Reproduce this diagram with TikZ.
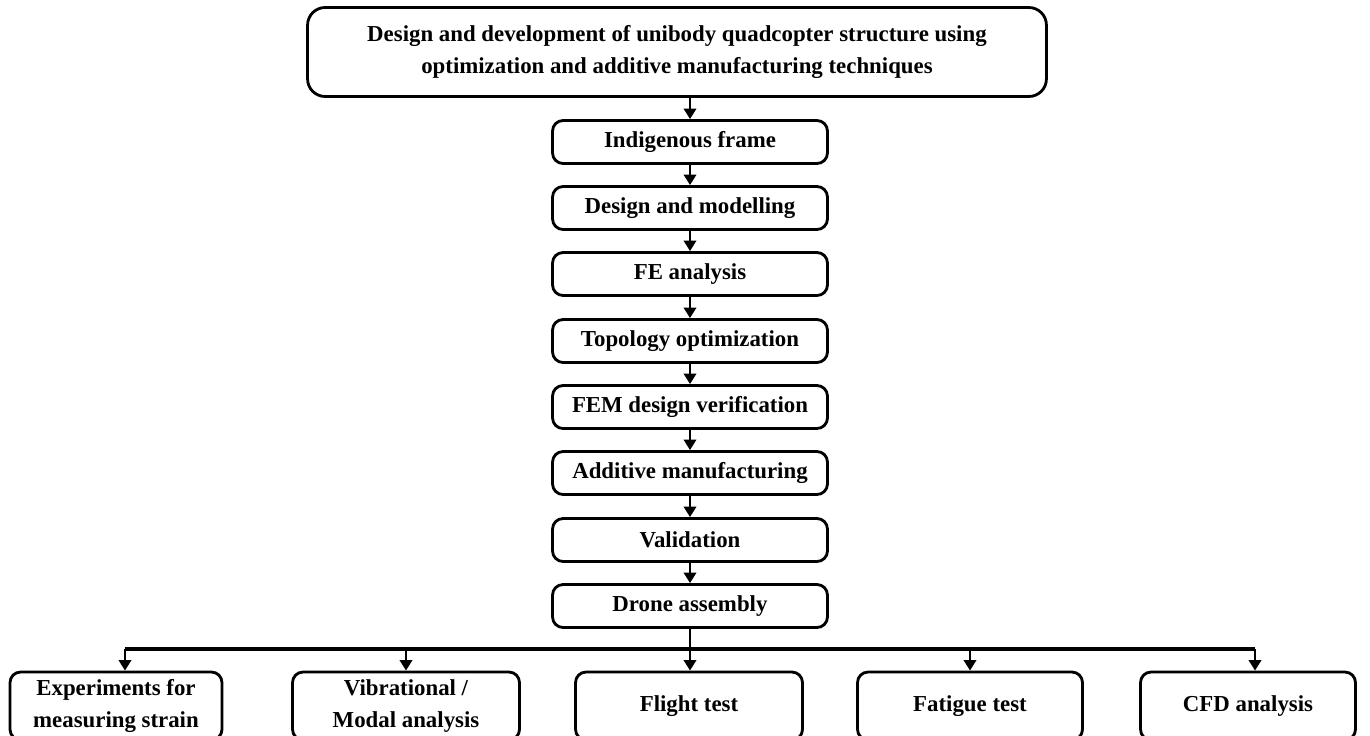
\documentclass[tikz,border=0pt]{standalone}
\usepackage{fontspec}
\setmainfont{Liberation Serif}
\usetikzlibrary{arrows.meta}

\begin{document}
\begin{tikzpicture}[x=0.02cm,y=-0.02cm,
        stage/.style={draw,rectangle,rounded corners=6pt,line width=1.6pt,minimum height=0.86cm,minimum width=5.5cm,align=center,font=\fontsize{13}{18}\selectfont\bfseries},
        test/.style={stage,minimum width=4.4cm,minimum height=1.36cm},
        flow/.style={-{Triangle[length=6pt,width=7pt]},line width=1.6pt}]

        \useasboundingbox (0,0) rectangle (1370,735);

        \node[stage,minimum width=14.78cm,minimum height=1.78cm,rounded corners=10pt] (goal) at (677,52) {Design and development of unibody quadcopter structure using\\optimization and additive manufacturing techniques};

        \node[stage] (frame) at (690,142) {Indigenous frame};
        \node[stage] (model) at (690,208) {Design and modelling};
        \node[stage] (fea) at (690,274) {FE analysis};
        \node[stage] (topo) at (690,341) {Topology optimization};
        \node[stage] (fem) at (690,407) {FEM design verification};
        \node[stage] (am) at (690,473) {Additive manufacturing};
        \node[stage] (valid) at (690,540) {Validation};
        \node[stage] (drone) at (690,606) {Drone assembly};

        \node[test,minimum width=4.24cm] (strain) at (116,706) {Experiments for\\measuring strain};
        \node[test,minimum width=4.54cm] (modal) at (406,706) {Vibrational /\\Modal analysis};
        \node[test,minimum width=4.54cm] (flight) at (689,706) {Flight test};
        \node[test,minimum width=4.5cm] (fatigue) at (970,706) {Fatigue test};
        \node[test,minimum width=4.3cm] (cfd) at (1248,706) {CFD analysis};

        \draw[flow] (goal.south -| frame) -- (frame);
        \draw[flow] (frame) -- (model);
        \draw[flow] (model) -- (fea);
        \draw[flow] (fea) -- (topo);
        \draw[flow] (topo) -- (fem);
        \draw[flow] (fem) -- (am);
        \draw[flow] (am) -- (valid);
        \draw[flow] (valid) -- (drone);

        % branch to the tests
        \coordinate (bus) at (690,649);
        \draw[line width=2pt] ([xshift=0.18cm]strain.north |- bus) -- ([xshift=0.14cm]cfd.north |- bus);
        \draw[flow] (drone.south) -- (drone.south |- flight.north);
        \draw[flow] ([xshift=0.18cm]strain.north |- bus) -- ([xshift=0.18cm]strain.north);
        \draw[flow] (modal.north |- bus) -- (modal.north);
        \draw[flow] (fatigue.north |- bus) -- (fatigue.north);
        \draw[flow] ([xshift=0.14cm]cfd.north |- bus) -- ([xshift=0.14cm]cfd.north);
    \end{tikzpicture}
\end{document}
